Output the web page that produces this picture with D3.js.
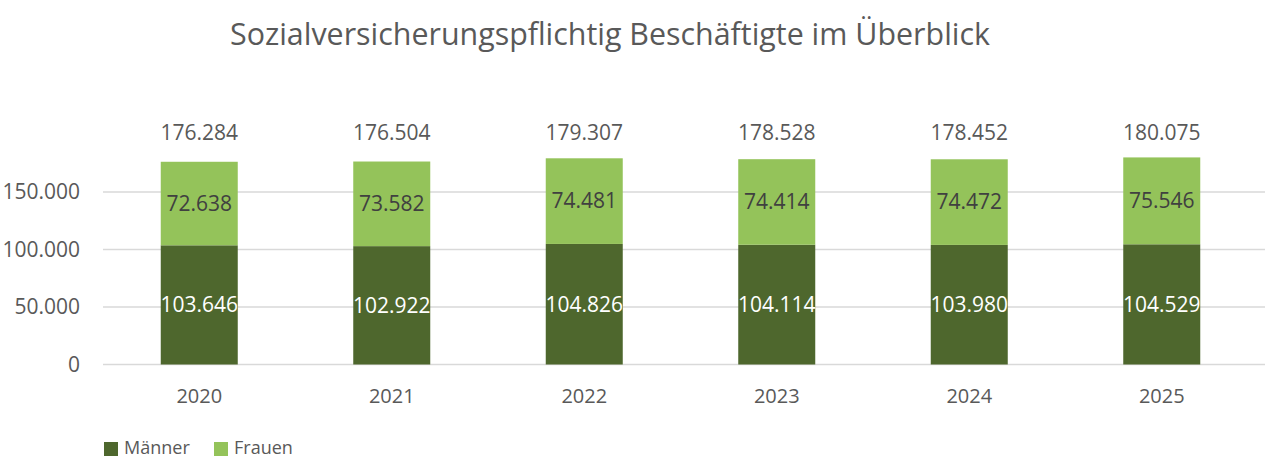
<!DOCTYPE html>
<html>
<head>
<meta charset="utf-8">
<script src="https://cdn.jsdelivr.net/npm/d3@7"></script>
<style>
  body { margin: 0; background: #fff; }
  text { font-family: "Open Sans", "Noto Sans", sans-serif; }
</style>
</head>
<body>
<svg id="chart" width="1274" height="459"></svg>
<script>
// data
const years = ["2020", "2021", "2022", "2023", "2024", "2025"];
const maenner = [103646, 102922, 104826, 104114, 103980, 104529];
const frauen = [72638, 73582, 74481, 74414, 74472, 75546];
const yTicks = [0, 50000, 100000, 150000];
const seriesNames = ["Männer", "Frauen"];
const colors = ["#4e672d", "#94c35a"];

const svg = d3.select("#chart");

// german number format
const de = d3.formatLocale({decimal: ",", thousands: ".", grouping: [3], currency: ["", "€"]});
const fmt = de.format(",d");

const x = d3.scaleBand().domain(years).range([103, 1258]).padding(0);
const y = d3.scaleLinear().domain([0, 200000]).range([364.5, 134.5]);
const barW = x.bandwidth() * 0.4;

// title
svg.append("text")
  .attr("x", 610).attr("y", 45)
  .attr("text-anchor", "middle")
  .attr("font-size", 31)
  .attr("fill", "#595959")
  .attr("textLength", 760)
  .attr("lengthAdjust", "spacingAndGlyphs")
  .text("Sozialversicherungspflichtig Beschäftigte im Überblick");

// gridlines
svg.append("g").selectAll("line")
  .data(yTicks)
  .join("line")
  .attr("x1", 103).attr("x2", 1265)
  .attr("y1", d => y(d)).attr("y2", d => y(d))
  .attr("stroke", "#d9d9d9").attr("stroke-width", 1.5);

// y axis labels
const yAxis = d3.axisLeft(y).tickValues(yTicks).tickFormat(fmt).tickSize(0).tickPadding(0);
svg.append("g").attr("transform", "translate(80,0)").call(yAxis)
  .call(g => g.select(".domain").remove())
  .selectAll("text")
  .attr("font-size", 21).attr("fill", "#595959")
  .style("font-family", "Open Sans");

// x axis labels
const xAxis = d3.axisBottom(x).tickSize(0).tickPadding(0);
svg.append("g").attr("transform", "translate(0,389)").call(xAxis)
  .call(g => g.select(".domain").remove())
  .selectAll("text")
  .attr("font-size", 20).attr("fill", "#595959")
  .style("font-family", "Open Sans");

// stacked bars
const rows = years.map((yr, i) => ({year: yr, "Männer": maenner[i], "Frauen": frauen[i]}));
const stack = d3.stack().keys(seriesNames)(rows);

const layers = svg.append("g").selectAll("g")
  .data(stack)
  .join("g")
  .attr("fill", (d, i) => colors[i]);

layers.selectAll("rect")
  .data(d => d)
  .join("rect")
  .attr("x", d => x(d.data.year) + (x.bandwidth() - barW) / 2)
  .attr("y", d => y(d[1]))
  .attr("width", barW)
  .attr("height", d => y(d[0]) - y(d[1]));

// segment labels
layers.each(function(layer, li) {
  d3.select(this).selectAll("text")
    .data(layer)
    .join("text")
    .attr("x", d => x(d.data.year) + x.bandwidth() / 2)
    .attr("y", d => (y(d[0]) + y(d[1])) / 2)
    .attr("dy", "0.35em")
    .attr("text-anchor", "middle")
    .attr("font-size", 21)
    .attr("fill", li === 0 ? "#ffffff" : "#404040")
    .text(d => fmt(d[1] - d[0]));
});

// totals
svg.append("g").selectAll("text")
  .data(rows)
  .join("text")
  .attr("x", d => x(d.year) + x.bandwidth() / 2)
  .attr("y", 133)
  .attr("dy", "0.35em")
  .attr("text-anchor", "middle")
  .attr("font-size", 21)
  .attr("fill", "#595959")
  .text(d => fmt(d["Männer"] + d["Frauen"]));

// legend
const legend = svg.append("g").attr("transform", "translate(104,448)");
const items = legend.selectAll("g")
  .data(seriesNames)
  .join("g")
  .attr("transform", (d, i) => `translate(${i * 110},0)`);
items.append("rect")
  .attr("x", 0).attr("y", -6).attr("width", 14).attr("height", 14)
  .attr("fill", (d, i) => colors[i]);
items.append("text")
  .attr("x", 20).attr("y", 0).attr("dy", "0.35em")
  .attr("font-size", 18).attr("fill", "#595959")
  .text(d => d);
</script>
</body>
</html>
